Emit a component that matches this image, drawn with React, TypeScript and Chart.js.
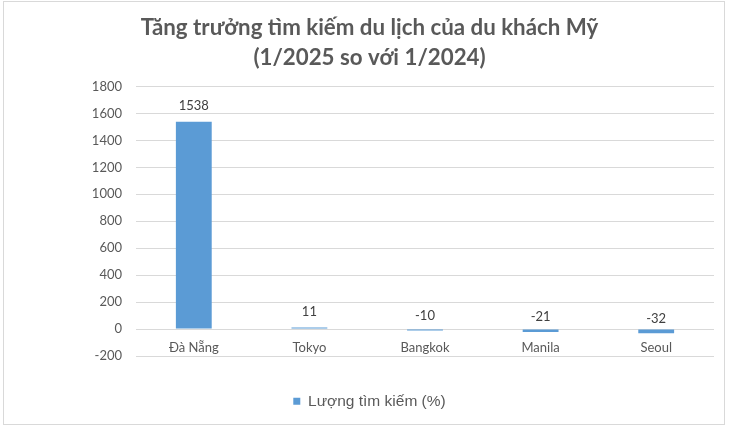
import React, { useEffect, useRef } from "react";
import { Chart, registerables } from "chart.js";

Chart.register(...registerables);

const titleLines = ["Tăng trưởng tìm kiếm du lịch của du khách Mỹ", "(1/2025 so với 1/2024)"];
const categories = ["Đà Nẵng", "Tokyo", "Bangkok", "Manila", "Seoul"];
const seriesName = "Lượng tìm kiếm (%)";
const values = [1538, 11, -10, -21, -32];
const yMin = -200;
const yMax = 1800;
const yStep = 200;

const FONT = "Lato, 'Open Sans', sans-serif";

const dataLabelPlugin = {
  id: "dataLabels",
  afterDatasetsDraw(chart: any) {
    const { ctx } = chart;
    const meta = chart.getDatasetMeta(0);
    const ds = chart.data.datasets[0];
    ctx.save();
    ctx.font = `13px ${FONT}`;
    ctx.fillStyle = "#404040";
    ctx.textAlign = "center";
    ctx.textBaseline = "middle";
    meta.data.forEach((el: any, i: number) => {
      const v = ds.data[i] as number;
      const y = v >= 0 ? el.y - 16 : el.y - 15;
      ctx.fillText(String(v), el.x, y);
    });
    ctx.restore();
  },
};

export default function App() {
  const ref = useRef<HTMLCanvasElement>(null);
  useEffect(() => {
    if (!ref.current) return;
    const chart = new Chart(ref.current, {
      type: "bar",
      data: {
        labels: categories,
        datasets: [
          {
            label: seriesName,
            data: values,
            backgroundColor: "#5B9BD5",
            borderWidth: 0,
            categoryPercentage: 1,
            barPercentage: 0.31,
          },
        ],
      },
      options: {
        animation: false,
        responsive: false,
        maintainAspectRatio: false,
        devicePixelRatio: 1,
        layout: { padding: { left: 25, right: 16, top: 0, bottom: 10 } },
        scales: {
          x: {
            position: { y: 0 } as any,
            grid: { display: false, drawTicks: false },
            border: { display: false },
            ticks: {
              color: "#595959",
              font: { family: FONT, size: 13 },
              padding: 11,
            },
          },
          y: {
            min: yMin,
            max: yMax,
            grid: { color: "#d9d9d9", lineWidth: 1, drawTicks: false },
            border: { display: false },
            ticks: {
              stepSize: yStep,
              color: "#595959",
              font: { family: FONT, size: 13 },
              padding: 14,
              callback: (v: any) => String(v),
            },
            afterFit(scale: any) {
              scale.width = 111;
            },
          },
        },
        plugins: {
          title: {
            display: true,
            text: titleLines,
            color: "#595959",
            font: { family: FONT, size: 22.3, weight: "bold", lineHeight: 30 / 22.3 },
            padding: { top: 13, bottom: 13.5 },
          },
          legend: {
            position: "bottom",
            labels: {
              color: "#595959",
              font: { family: "'Liberation Sans', Arial, sans-serif", size: 15.5 },
              boxWidth: 7,
              boxHeight: 7,
              padding: 37.5,
            },
          },
          tooltip: { enabled: false },
        },
      },
      plugins: [dataLabelPlugin],
    });
    return () => chart.destroy();
  }, []);
  return (
    <div style={{ position: "fixed", left: 0, top: 0, width: 730, height: 429, background: "#fff" }}>
      <canvas ref={ref} width={730} height={429} style={{ position: "absolute", left: 0, top: 0 }} />
      <div
        style={{
          position: "absolute",
          left: 3,
          top: 1,
          width: 722,
          height: 424,
          border: "1px solid #d9d9d9",
          boxSizing: "border-box",
          pointerEvents: "none",
        }}
      />
    </div>
  );
}
